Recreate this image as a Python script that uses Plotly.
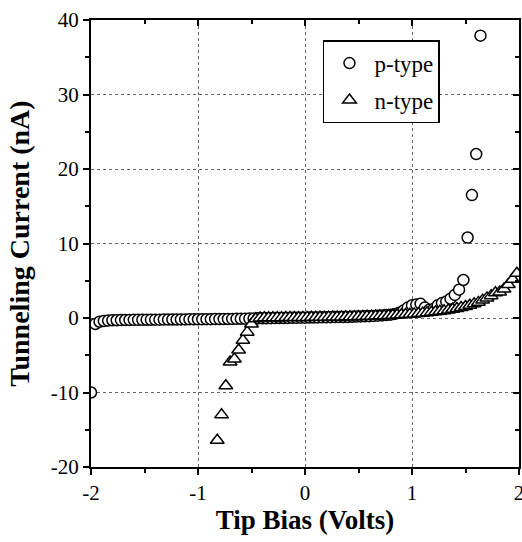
import plotly.graph_objects as go

# Tip bias (V) and tunneling current (nA)
p_bias = [-2.00, -1.96, -1.92, -1.88, -1.84, -1.80, -1.76, -1.72, -1.68, -1.64,
          -1.60, -1.56, -1.52, -1.48, -1.44, -1.40, -1.36, -1.32, -1.28, -1.24,
          -1.20, -1.16, -1.12, -1.08, -1.04, -1.00, -0.96, -0.92, -0.88, -0.84,
          -0.80, -0.76, -0.72, -0.68, -0.64, -0.60, -0.56, -0.52, -0.48, -0.44,
          -0.40, -0.36, -0.32, -0.28, -0.24, -0.20, -0.16, -0.12, -0.08, -0.04,
          0.00, 0.04, 0.08, 0.12, 0.16, 0.20, 0.24, 0.28, 0.32, 0.36,
          0.40, 0.44, 0.48, 0.52, 0.56, 0.60, 0.64, 0.68, 0.72, 0.76,
          0.80, 0.84, 0.88, 0.92, 0.96, 1.00, 1.04, 1.08, 1.12, 1.16,
          1.20, 1.24, 1.28, 1.32, 1.36, 1.40, 1.44, 1.48, 1.52, 1.56,
          1.60, 1.64]
p_current = [-10.0, -0.8, -0.5, -0.4, -0.35, -0.3, -0.3, -0.28, -0.27, -0.26,
             -0.25, -0.25, -0.24, -0.23, -0.23, -0.22, -0.22, -0.21, -0.21, -0.2,
             -0.2, -0.19, -0.19, -0.18, -0.18, -0.17, -0.17, -0.16, -0.16, -0.15,
             -0.15, -0.14, -0.13, -0.12, -0.11, -0.1, -0.09, -0.08, -0.07, -0.05,
             -0.04, -0.03, -0.02, -0.01, 0.0, 0.0, 0.01, 0.02, 0.03, 0.04,
             0.05, 0.06, 0.07, 0.08, 0.09, 0.1, 0.11, 0.12, 0.13, 0.14,
             0.15, 0.17, 0.19, 0.21, 0.23, 0.25, 0.28, 0.31, 0.35, 0.4,
             0.45, 0.55, 0.7, 1.0, 1.4, 1.7, 1.8, 1.9, 1.4, 1.1,
             1.2, 1.7, 2.0, 2.2, 2.6, 3.1, 3.8, 5.1, 10.8, 16.5,
             22.0, 37.9]

n_bias = [-0.82, -0.78, -0.74, -0.70, -0.66, -0.62, -0.58, -0.54, -0.50, -0.46,
          -0.42, -0.38, -0.34, -0.30, -0.26, -0.22, -0.18, -0.14, -0.10, -0.06,
          -0.02, 0.02, 0.06, 0.10, 0.14, 0.18, 0.22, 0.26, 0.30, 0.34,
          0.38, 0.42, 0.46, 0.50, 0.54, 0.58, 0.62, 0.66, 0.70, 0.74,
          0.78, 0.82, 0.86, 0.90, 0.94, 0.98, 1.02, 1.06, 1.10, 1.14,
          1.18, 1.22, 1.26, 1.30, 1.34, 1.38, 1.42, 1.46, 1.50, 1.54,
          1.58, 1.62, 1.66, 1.70, 1.74, 1.78, 1.82, 1.86, 1.90, 1.94,
          1.98]
n_current = [-16.4, -13.0, -9.1, -5.9, -5.5, -4.3, -3.0, -1.9, -0.8, -0.1,
             0.0, 0.02, 0.03, 0.04, 0.05, 0.05, 0.06, 0.06, 0.07, 0.07,
             0.08, 0.08, 0.09, 0.1, 0.1, 0.11, 0.12, 0.13, 0.14, 0.15,
             0.16, 0.17, 0.18, 0.2, 0.21, 0.23, 0.25, 0.27, 0.29, 0.31,
             0.34, 0.37, 0.4, 0.43, 0.47, 0.51, 0.55, 0.6, 0.65, 0.7,
             0.76, 0.83, 0.9, 0.98, 1.07, 1.17, 1.28, 1.4, 1.55, 1.7,
             1.9, 2.1, 2.4, 2.7, 3.0, 3.4, 3.5, 3.9, 4.5, 5.2,
             6.0]

x_ticks = [-2, -1, 0, 1, 2]
y_ticks = [-20, -10, 0, 10, 20, 30, 40]

SERIF = "Liberation Serif"

fig = go.Figure()
fig.add_trace(go.Scatter(
    x=p_bias, y=p_current, mode="markers", name="p-type",
    legendgroup="p",
    marker=dict(symbol="circle", size=11, color="white",
                line=dict(color="black", width=1.5)),
))
fig.add_trace(go.Scatter(
    x=n_bias, y=n_current, mode="markers", name="n-type",
    legendgroup="n",
    marker=dict(symbol="triangle-up", size=12, color="white",
                line=dict(color="black", width=1.5)),
))
# invisible trace to carry the top/right tick axes
fig.add_trace(go.Scatter(x=[x_ticks[0]], y=[y_ticks[0]], xaxis="x2", yaxis="y2",
                         mode="markers", marker=dict(opacity=0),
                         showlegend=False, hoverinfo="skip"))

axis_common = dict(
    showline=True, linecolor="black", linewidth=2,
    ticks="outside", ticklen=6, tickwidth=1.5, tickcolor="black",
    showgrid=True, gridcolor="#666", griddash="dot", gridwidth=1,
    zeroline=False, ticklabeloverflow="allow", automargin=False,
    tickfont=dict(family=SERIF, size=21, color="black"),
)

fig.update_layout(
    width=522, height=542,
    margin=dict(l=91, r=3, t=20, b=75, autoexpand=False),
    paper_bgcolor="white", plot_bgcolor="white",
    xaxis=dict(
        range=[-2, 2], tickvals=x_ticks, ticktext=[str(v) for v in x_ticks],
        minor=dict(ticks="outside", ticklen=4, tickwidth=1.5, tickcolor="black",
                   dtick=0.5, showgrid=False),
        title=dict(text="<b>Tip Bias (Volts)</b>", standoff=6,
                   font=dict(family=SERIF, size=27, color="black")),
        **axis_common,
    ),
    yaxis=dict(
        range=[-20, 40], tickvals=y_ticks, ticktext=[str(v) for v in y_ticks],
        minor=dict(ticks="outside", ticklen=4, tickwidth=1.5, tickcolor="black",
                   dtick=5, showgrid=False),
        title=dict(text="<b>Tunneling Current (nA)</b>", standoff=13,
                   font=dict(family=SERIF, size=28, color="black")),
        **axis_common,
    ),
    xaxis2=dict(
        overlaying="x", side="top", range=[-2, 2], tickvals=x_ticks,
        showticklabels=False, ticks="inside", ticklen=6, tickwidth=1.5,
        tickcolor="black", showline=True, linecolor="black", linewidth=2,
        showgrid=False, zeroline=False, automargin=False,
        minor=dict(ticks="inside", ticklen=4, tickwidth=1.5, tickcolor="black", dtick=0.5),
    ),
    yaxis2=dict(
        overlaying="y", side="right", range=[-20, 40], tickvals=y_ticks,
        showticklabels=False, ticks="inside", ticklen=6, tickwidth=1.5,
        tickcolor="black", showline=True, linecolor="black", linewidth=2,
        showgrid=False, zeroline=False, automargin=False,
        minor=dict(ticks="inside", ticklen=4, tickwidth=1.5, tickcolor="black", dtick=5),
    ),
    legend=dict(
        x=0.542, y=0.955, xanchor="left", yanchor="top",
        bgcolor="white", bordercolor="black", borderwidth=1.5,
        font=dict(family=SERIF, size=23, color="black"),
        traceorder="grouped", tracegroupgap=4, itemwidth=40,
    ),
    showlegend=True,
)

fig.write_html("out.html",
               config={"displayModeBar": False},
               post_script="document.body.style.margin='0';"
                           "document.body.style.overflow='hidden';")
